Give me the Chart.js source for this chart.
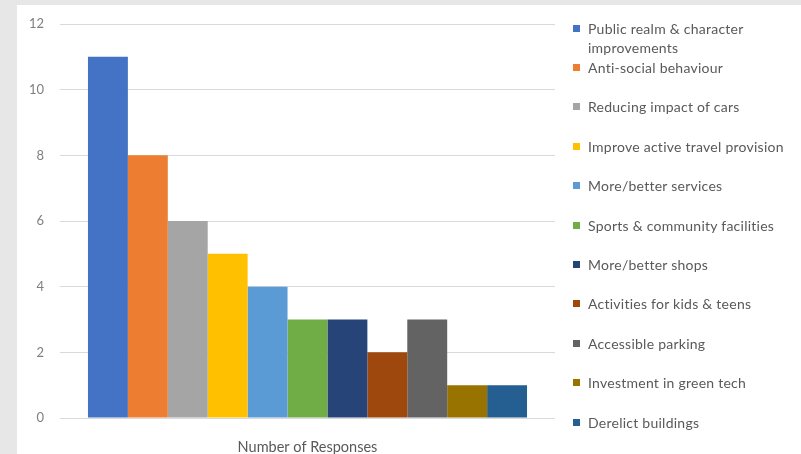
<!DOCTYPE html>
<html>
<head>
<meta charset="utf-8">
<script src="https://cdn.jsdelivr.net/npm/chart.js@4"></script>
<style>
  html, body { margin: 0; padding: 0; }
  body { width: 801px; height: 454px; background: #e7e7e7; position: relative; overflow: hidden; }
  #card { position: absolute; left: 17px; top: 5px; right: 0; bottom: 0; background: #fff; }
  #wrap { position: absolute; left: 0; top: 0; width: 801px; height: 454px; }
  #legend { position: absolute; left: 0; top: 0; width: 801px; height: 454px; pointer-events: none;
            font-family: Lato, "Open Sans", sans-serif; font-size: 14px; letter-spacing: 0.25px; color: #595959; }
  .item { position: absolute; left: 573px; width: 225px; line-height: 19px; }
  .sw { position: absolute; left: 0; top: 6px; width: 7px; height: 7px; }
  .txt { position: absolute; left: 15px; white-space: normal; width: 205px; }
</style>
</head>
<body>
<div id="card"></div>
<div id="wrap"><canvas id="myChart" width="801" height="454"></canvas></div>
<div id="legend"></div>
<script>
const categories = ['Number of Responses'];
const seriesNames = [
  'Public realm & character improvements',
  'Anti-social behaviour',
  'Reducing impact of cars',
  'Improve active travel provision',
  'More/better services',
  'Sports & community facilities',
  'More/better shops',
  'Activities for kids & teens',
  'Accessible parking',
  'Investment in green tech',
  'Derelict buildings'
];
const seriesValues = [11, 8, 6, 5, 4, 3, 3, 2, 3, 1, 1];
const seriesColors = [
  '#4472C4', '#ED7D31', '#A5A5A5', '#FFC000', '#5B9BD5', '#70AD47',
  '#264478', '#9E480E', '#636363', '#997300', '#255E91'
];
const yTicks = [0, 2, 4, 6, 8, 10, 12];

const datasets = seriesNames.map((name, i) => ({
  label: name,
  data: [seriesValues[i]],
  backgroundColor: seriesColors[i],
  borderWidth: 0,
  categoryPercentage: 0.887,
  barPercentage: 1
}));

const config = {
  type: 'bar',
  data: {labels: categories, datasets: datasets},
  options: {
    responsive: false,
    animation: false,
    layout: {padding: {left: 0, right: 246, top: 24, bottom: 0}},
    scales: {
      x: {
        grid: {display: false},
        border: {display: false},
        ticks: {color: '#595959', font: {family: 'Lato', size: 14.5}, padding: 13},
        afterFit: (scale) => { scale.height = 454 - 418; }
      },
      y: {
        min: 0,
        max: 12,
        grid: {color: '#d9d9d9', drawTicks: false},
        border: {display: false},
        afterBuildTicks: (scale) => { scale.ticks = yTicks.map(v => ({value: v})); },
        ticks: {color: '#7f7f7f', font: {family: 'Lato', size: 13}, padding: 16},
        afterFit: (scale) => { scale.width = 60; }
      }
    },
    plugins: {legend: {display: false}, tooltip: {enabled: false}}
  }
};

const myChart = new Chart(document.getElementById('myChart'), config);

// legend to the right, one row every ~39.4px
const legend = document.getElementById('legend');
seriesNames.forEach((name, i) => {
  const item = document.createElement('div');
  item.className = 'item';
  item.style.top = (28 + i * 39.4 - 9.5) + 'px';
  const sw = document.createElement('div');
  sw.className = 'sw';
  sw.style.background = seriesColors[i];
  const txt = document.createElement('div');
  txt.className = 'txt';
  txt.textContent = name;
  item.appendChild(sw);
  item.appendChild(txt);
  legend.appendChild(item);
});
</script>
</body>
</html>
